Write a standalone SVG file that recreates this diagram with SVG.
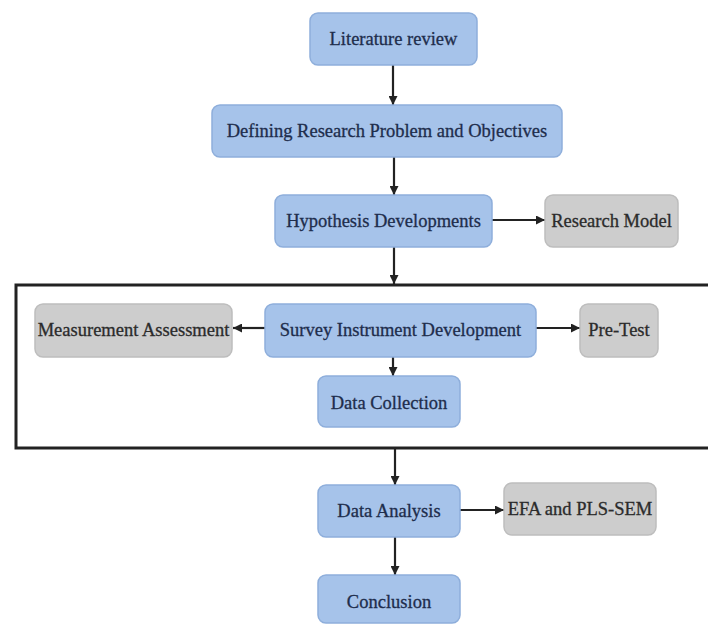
<svg xmlns="http://www.w3.org/2000/svg" width="708" height="624" viewBox="0 0 708 624">
  <style>
    .step rect { fill: #a6c3ea; stroke: #8eaedb; stroke-width: 1.5; }
    .side rect { fill: #cdcdcd; stroke: #bdbdbd; stroke-width: 1.5; }
    text { font-family: "Liberation Serif", "Times New Roman", serif; font-size: 18.5px; text-anchor: middle; dominant-baseline: central; stroke-width: 0.3; }
    .step text { fill: #1e2d4c; stroke: #1e2d4c; }
    .side text { fill: #2b2b2b; stroke: #2b2b2b; }
    .link { stroke: #222; stroke-width: 2.2; fill: none; marker-end: url(#arrow); }
    .frame { fill: none; stroke: #222; stroke-width: 3; }
  </style>
  <defs>
    <marker id="arrow" viewBox="0 0 10 10" refX="10" refY="5" markerWidth="9" markerHeight="9" markerUnits="userSpaceOnUse" orient="auto">
      <path d="M0,0 L10,5 L0,10 z" fill="#222"/>
    </marker>
  </defs>
  <rect width="708" height="624" fill="#ffffff"/>

  <!-- grouping frame around the instrument stage -->
  <rect class="frame" x="16" y="285" width="700" height="163"/>

  <g id="connectors">
    <path class="link" d="M393,65 V105"/>
    <path class="link" d="M394,157 V195"/>
    <path class="link" d="M492,220 H545"/>
    <path class="link" d="M394,247 V284"/>
    <path class="link" d="M265,328 H233"/>
    <path class="link" d="M536,328 H580"/>
    <path class="link" d="M393,357 V376"/>
    <path class="link" d="M395,449 V485"/>
    <path class="link" d="M460,510 H504"/>
    <path class="link" d="M395,537 V575"/>
  </g>

  <g id="literature-review" class="step">
    <rect x="310" y="13" width="167" height="52" rx="8"/>
    <text x="393.5" y="39">Literature review</text>
  </g>
  <g id="defining-problem" class="step">
    <rect x="212" y="105" width="350" height="52" rx="8"/>
    <text x="387" y="131">Defining Research Problem and Objectives</text>
  </g>
  <g id="hypothesis" class="step">
    <rect x="275" y="195" width="217" height="52" rx="8"/>
    <text x="383.5" y="221">Hypothesis Developments</text>
  </g>
  <g id="research-model" class="side">
    <rect x="545" y="195" width="133" height="52" rx="8"/>
    <text x="611.5" y="221">Research Model</text>
  </g>
  <g id="measurement" class="side">
    <rect x="35" y="304" width="197" height="53" rx="8"/>
    <text x="133.5" y="330">Measurement Assessment</text>
  </g>
  <g id="survey-instrument" class="step">
    <rect x="265" y="304" width="271" height="53" rx="8"/>
    <text x="400.5" y="330">Survey Instrument Development</text>
  </g>
  <g id="pre-test" class="side">
    <rect x="580" y="304" width="78" height="53" rx="8"/>
    <text x="619" y="330">Pre-Test</text>
  </g>
  <g id="data-collection" class="step">
    <rect x="318" y="376" width="142" height="51" rx="8"/>
    <text x="389" y="403">Data Collection</text>
  </g>
  <g id="data-analysis" class="step">
    <rect x="318" y="485" width="142" height="52" rx="8"/>
    <text x="389" y="511">Data Analysis</text>
  </g>
  <g id="efa-pls-sem" class="side">
    <rect x="504" y="483" width="152" height="52" rx="8"/>
    <text x="580" y="509">EFA and PLS-SEM</text>
  </g>
  <g id="conclusion" class="step">
    <rect x="318" y="575" width="142" height="48" rx="8"/>
    <text x="389" y="602">Conclusion</text>
  </g>
</svg>
